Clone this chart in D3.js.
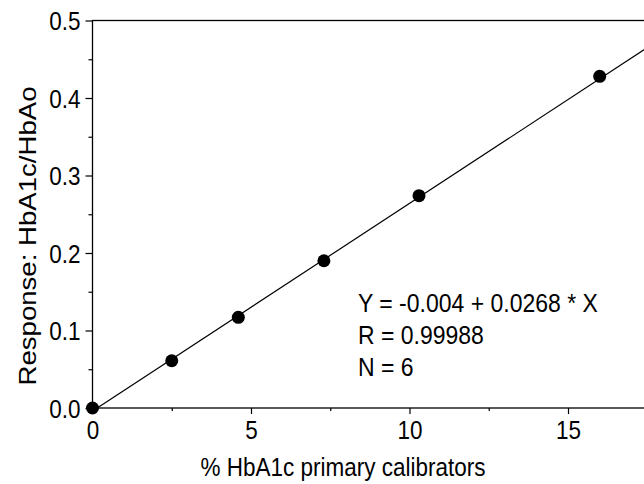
<!DOCTYPE html>
<html>
<head>
<meta charset="utf-8">
<script src="https://cdn.jsdelivr.net/npm/d3@7"></script>
<style>
  body { margin: 0; background: #fff; }
  svg text { font-family: "Liberation Sans", Arial, sans-serif; fill: #000; }
</style>
</head>
<body>
<svg id="chart" width="644" height="484"></svg>
<script>
// calibrator points
const pctHbA1c = [0, 2.5, 4.6, 7.3, 10.3, 16.0];
const response = [0, 0.061, 0.117, 0.190, 0.274, 0.428];

// fitted line Y = -0.004 + 0.0268 * X
const intercept = -0.004;
const slope = 0.0268;

const xTicks = [0, 5, 10, 15];
const xMinor = [2.5, 7.5, 12.5, 17.5];
const yTicks = [0, 0.1, 0.2, 0.3, 0.4, 0.5];
const yMinor = [0.05, 0.15, 0.25, 0.35, 0.45];

const fitText = ["Y = -0.004 + 0.0268 * X", "R = 0.99988", "N = 6"];

const margin = {left: 92.5, top: 20.5, bottom: 408};
const stretch = 1.15; // the scan is a bit taller than wide
const svg = d3.select("#chart");

// plot runs off the right edge of the picture
const x = d3.scaleLinear().domain([0, 20]).range([margin.left, margin.left + 20 * 31.7]);
const y = d3.scaleLinear().domain([0, 0.5]).range([margin.bottom, margin.top]);

svg.append("defs").append("clipPath").attr("id", "clip")
  .append("rect")
  .attr("x", x(0)).attr("y", y(0.5))
  .attr("width", x(20) - x(0)).attr("height", y(0) - y(0.5));

// frame
svg.append("rect")
  .attr("x", x(0)).attr("y", y(0.5))
  .attr("width", x(20) - x(0)).attr("height", y(0) - y(0.5))
  .attr("fill", "none").attr("stroke", "#000").attr("stroke-width", 1.3);

const fmtY = d3.format(".1f");

const yAxis = svg.append("g").attr("transform", `translate(${x(0)},0)`)
  .call(d3.axisLeft(y).tickValues(yTicks).tickFormat(fmtY).tickSize(7).tickPadding(5));
yAxis.select(".domain").remove();
yAxis.selectAll(".tick text")
  .attr("x", -12).attr("dy", "0.36em")
  .attr("transform", `scale(1,${stretch})`);
svg.append("g").attr("transform", `translate(${x(0)},0)`)
  .call(d3.axisLeft(y).tickValues(yMinor).tickFormat("").tickSize(4))
  .select(".domain").remove();

const xAxis = svg.append("g").attr("transform", `translate(0,${y(0)})`)
  .call(d3.axisBottom(x).tickValues(xTicks).tickSize(6).tickPadding(4));
xAxis.select(".domain").remove();
xAxis.selectAll(".tick text")
  .attr("y", 0).attr("dy", 0)
  .attr("transform", `translate(0,31) scale(1,${stretch})`);
svg.append("g").attr("transform", `translate(0,${y(0)})`)
  .call(d3.axisBottom(x).tickValues(xMinor).tickFormat("").tickSize(3))
  .select(".domain").remove();

svg.selectAll(".tick line").attr("stroke", "#000").attr("stroke-width", 1.2);
svg.selectAll(".tick text").attr("font-size", 22.5).attr("font-family", "Liberation Sans, Arial, sans-serif");

// regression line
svg.append("line")
  .attr("clip-path", "url(#clip)")
  .attr("x1", x(0)).attr("y1", y(intercept))
  .attr("x2", x(20)).attr("y2", y(intercept + slope * 20))
  .attr("stroke", "#000").attr("stroke-width", 1.2);

// points
svg.selectAll("circle.pt")
  .data(pctHbA1c)
  .join("circle")
  .attr("class", "pt")
  .attr("cx", d => x(d))
  .attr("cy", (d, i) => y(response[i]))
  .attr("r", 6.5)
  .attr("fill", "#000");

// fit annotation
svg.append("g").selectAll("text")
  .data(fitText)
  .join("text")
  .attr("transform", (d, i) => `translate(358,${312 + i * 32}) scale(1,${stretch})`)
  .attr("font-size", 23)
  .text(d => d);

// axis titles
svg.append("text")
  .attr("transform", `translate(343,476) scale(1,${stretch})`)
  .attr("text-anchor", "middle")
  .attr("font-size", 22.5)
  .text("% HbA1c primary calibrators");

svg.append("text")
  .attr("transform", "translate(36,236) rotate(-90) scale(1.2,1)")
  .attr("text-anchor", "middle")
  .attr("font-size", 23)
  .text("Response: HbA1c/HbAo");
</script>
</body>
</html>
